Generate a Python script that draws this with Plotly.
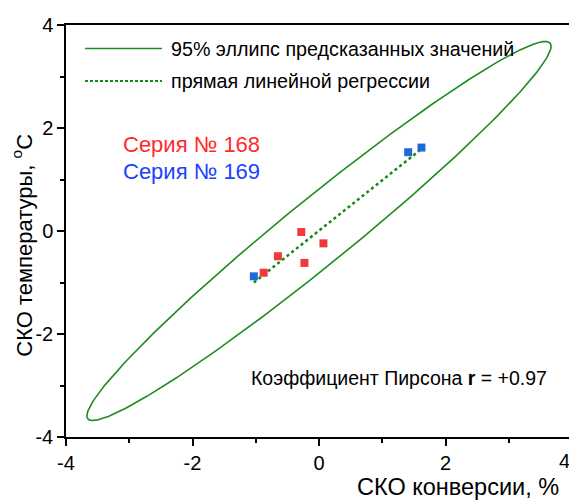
import numpy as np
import plotly.graph_objects as go

# ---- data ----
series168_x = [-0.875, -0.65, -0.28, 0.07, -0.23]
series168_y = [-0.81, -0.49, -0.02, -0.24, -0.62]
series169_x = [-1.03, 1.41, 1.62]
series169_y = [-0.88, 1.53, 1.62]

# 95% prediction ellipse parameters
ell_center = (0.0, 0.0)
ell_sx = 3.67
ell_sy = 3.68
ell_rho = 0.975

pearson_r = "+0.97"
x_ticks = [-4, -2, 0, 2, 4]
y_ticks = [-4, -2, 0, 2, 4]

# ---- geometry helpers (page has an 8px body margin) ----
OFF = 8
W, H = 577 - OFF, 500 - OFF
PL, PR, PT, PB = 66, 572.3, 25, 437.5          # plot box in page pixels
ML, MR, MT, MB = PL - OFF, W - (PR - OFF), PT - OFF, H - (PB - OFF)
PW, PH = PR - PL, PB - PT


def px(xp):
    return (xp - PL) / PW


def py(yp):
    return (PB - yp) / PH


FONT = "Arial, Liberation Sans, sans-serif"
GREEN = "#1e8c1e"
DGREEN = "#118a11"
RED = "#f03a3a"
BLUE = "#1f6bd6"

all_x = np.array(series168_x + series169_x)
all_y = np.array(series168_y + series169_y)
k, b = np.polyfit(all_x, all_y, 1)
reg_x = np.array([all_x.min(), all_x.max()])
reg_y = k * reg_x + b

t = np.linspace(0, 2 * np.pi, 400)
ex = ell_center[0] + ell_sx * np.cos(t)
ey = ell_center[1] + ell_sy * (ell_rho * np.cos(t) + np.sqrt(1 - ell_rho ** 2) * np.sin(t))

fig = go.Figure()
fig.add_trace(go.Scatter(x=ex, y=ey, mode="lines", line=dict(color=GREEN, width=1.6),
                         showlegend=False, hoverinfo="skip"))
fig.add_trace(go.Scatter(x=reg_x, y=reg_y, mode="lines",
                         line=dict(color=DGREEN, width=2.5, dash="3px,3px"),
                         showlegend=False))
fig.add_trace(go.Scatter(x=series168_x, y=series168_y, mode="markers",
                         marker=dict(symbol="square", size=8, color=RED),
                         showlegend=False))
fig.add_trace(go.Scatter(x=series169_x, y=series169_y, mode="markers",
                         marker=dict(symbol="square", size=8, color=BLUE),
                         showlegend=False))

TICK_SIZE = 20
axis_common = dict(
    showline=True, linecolor="black", linewidth=1.5, mirror=True,
    ticks="outside", ticklen=7, tickwidth=1.5, tickcolor="black",
    showgrid=False, zeroline=False, ticklabeloverflow="allow",
    tickfont=dict(family=FONT, size=TICK_SIZE, color="black"),
    minor=dict(ticks="outside", ticklen=4, tickwidth=1.5, tickcolor="black", dtick=1, showgrid=False),
)

# the right-most x tick label sits at the page edge; it is drawn as an annotation below
x_ticktext = [str(v) for v in x_ticks[:-1]] + [""]
fig.update_xaxes(range=[-4, 4], tickvals=x_ticks, ticktext=x_ticktext, **axis_common)
fig.update_yaxes(range=[-4, 4], tickvals=y_ticks, ticktext=[str(v) for v in y_ticks], **axis_common)

shapes = [
    dict(type="line", xref="paper", yref="paper", x0=px(85), x1=px(162), y0=py(48.5), y1=py(48.5),
         line=dict(color=GREEN, width=1.6)),
    dict(type="line", xref="paper", yref="paper", x0=px(85), x1=px(162), y0=py(81), y1=py(81),
         line=dict(color=DGREEN, width=2, dash="3px,2px")),
]

ann = [
    dict(x=px(169), y=py(49), text="95% эллипс предсказанных значений", xanchor="left", yanchor="middle",
         font=dict(size=19.7, color="black")),
    dict(x=px(169), y=py(81.5), text="прямая линейной регрессии", xanchor="left", yanchor="middle",
         font=dict(size=19.7, color="black")),
    dict(x=px(121), y=py(145), text="Серия № 168", xanchor="left", yanchor="middle",
         font=dict(size=22, color="#ff2a2a")),
    dict(x=px(121), y=py(172), text="Серия № 169", xanchor="left", yanchor="middle",
         font=dict(size=22, color="#2040ff")),
    dict(x=px(249), y=py(378), text=f"Коэффициент Пирсона <b>r</b> = {pearson_r}", xanchor="left",
         yanchor="middle", font=dict(size=19.5, color="black")),
    dict(x=px(355), y=py(488), text="СКО конверсии, %", xanchor="left", yanchor="middle",
         font=dict(size=23.5, color="black")),
    dict(x=px(22), y=py(246), text="СКО температуры, <sup>o</sup>C", textangle=-90,
         xanchor="center", yanchor="middle", font=dict(size=22, color="black")),
    dict(x=px(572), y=py(462), text=str(x_ticks[-1]), xanchor="right", yanchor="middle",
         font=dict(size=TICK_SIZE, color="black")),
]
for a in ann:
    a.update(xref="paper", yref="paper", showarrow=False)
    a["font"]["family"] = FONT

fig.update_layout(
    width=W, height=H,
    margin=dict(l=ML, r=MR, t=MT, b=MB, pad=0),
    paper_bgcolor="white", plot_bgcolor="white",
    shapes=shapes, annotations=ann,
    showlegend=False,
    font=dict(family=FONT),
)

fig.write_html("out.html")
